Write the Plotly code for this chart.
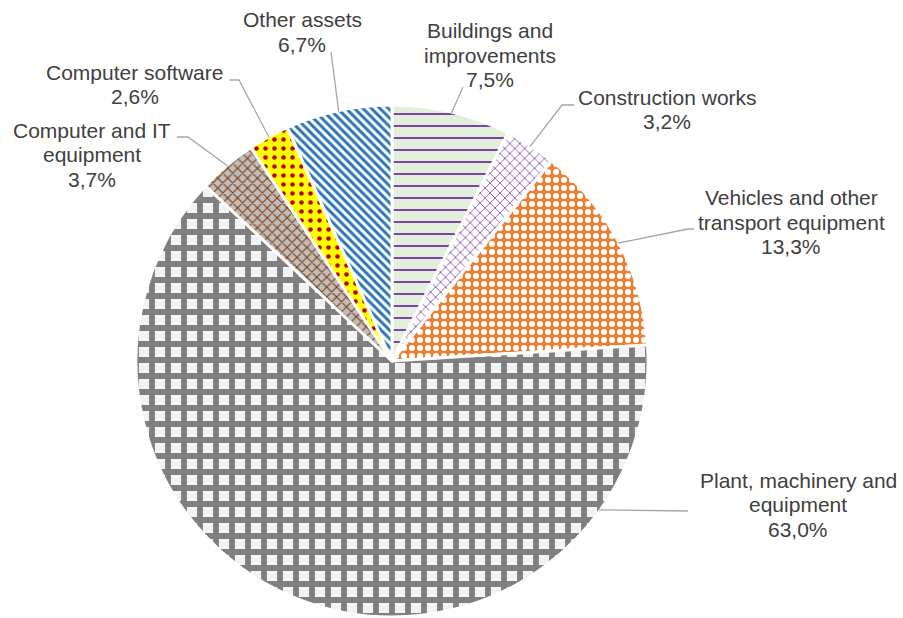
import math
import textwrap
import plotly.graph_objects as go

# ---------------- data ----------------
categories = [
    "Buildings and improvements",
    "Construction works",
    "Vehicles and other transport equipment",
    "Plant, machinery and equipment",
    "Computer and IT equipment",
    "Computer software",
    "Other assets",
]
shares = [7.5, 3.2, 13.3, 63.0, 3.7, 2.6, 6.7]

# ---------------- style / layout ----------------
W, H = 903, 618
CX, CY, R = 392, 361, 256          # pie centre and radius in px

pat_shape = ["-", "x", ".", "+", "x", ".", "\\"]
pat_bg = ["#E2EFDA", "#FFFFFF", "#ED7D31", "#F2F2F2", "#BFBFBF", "#FFFF00", "#FFFFFF"]
pat_fg = ["#7030A0", "#7030A0", "#FFFFFF", "#808080", "#843C0C", "#C00000", "#2E75B6"]
pat_size = [12, 7, 8, 16, 7, 9, 6]
pat_solid = [0.15, 0.2, 0.45, 0.6, 0.3, 0.2, 0.5]

# label block: centre x, first line centre y (px)
label_pos = [(490, 30.5), (667, 97.5), (791, 197.5), (798, 480),
             (92, 130.5), (134.5, 72.5), (302, 20)]
LINE_GAP = 24.5
# leader: optional anchor angle override (deg, clockwise from top), list of points (px)
leaders = [
    (None, [(463, 87)]),
    (None, [(562, 105), (574, 105)]),
    (None, [(688, 229), (694, 229)]),
    (125.7, [(688, 511)]),
    (None, [(188, 137), (177, 137)]),
    (None, [(239, 80), (230, 80)]),
    (None, [(331, 52)]),
]

FONT = "Liberation Sans, Arial, sans-serif"
TXT = "#404040"


def px(x, y):
    return x / W, 1 - y / H


fig = go.Figure()
fig.add_trace(go.Pie(
    labels=categories,
    values=shares,
    sort=False,
    direction="clockwise",
    rotation=0,
    textinfo="none",
    hoverinfo="label+percent",
    showlegend=False,
    domain=dict(x=[(CX - R) / W, (CX + R) / W],
                y=[1 - (CY + R) / H, 1 - (CY - R) / H]),
    marker=dict(
        colors=pat_bg,
        line=dict(color="white", width=3),
        pattern=dict(shape=pat_shape, bgcolor=pat_bg, fgcolor=pat_fg,
                     size=pat_size, solidity=pat_solid, fillmode="replace"),
    ),
))

total = sum(shares)
cum = 0.0
annotations = []
shapes = []
for i, (cat, v) in enumerate(zip(categories, shares)):
    mid = (cum + v / 2) / total * 360
    cum += v
    ang_override, pts = leaders[i]
    ang = math.radians(ang_override if ang_override is not None else mid)
    sx = CX + (R - 1) * math.sin(ang)
    sy = CY - (R - 1) * math.cos(ang)
    path_pts = [(sx, sy)] + pts
    p = "M " + " L ".join("%f,%f" % px(x, y) for x, y in path_pts)
    shapes.append(dict(type="path", path=p, xref="paper", yref="paper",
                       line=dict(color="#A6A6A6", width=1.3)))

    lines = textwrap.wrap(cat, 20) + [f"{v:.1f}".replace(".", ",") + "%"]
    lx, ly = label_pos[i]
    for k, t in enumerate(lines):
        ax, ay = px(lx, ly + k * LINE_GAP)
        annotations.append(dict(x=ax, y=ay, xref="paper", yref="paper",
                                text=t, showarrow=False, xanchor="center",
                                yanchor="middle",
                                font=dict(family=FONT, size=21, color=TXT)))

fig.update_layout(
    width=W, height=H,
    margin=dict(l=0, r=0, t=0, b=0),
    paper_bgcolor="white", plot_bgcolor="white",
    annotations=annotations,
    shapes=shapes,
)
fig.write_html("out.html",
               config={"displayModeBar": False},
               post_script="document.body.style.margin='0';"
                           "document.body.style.overflow='hidden';")
